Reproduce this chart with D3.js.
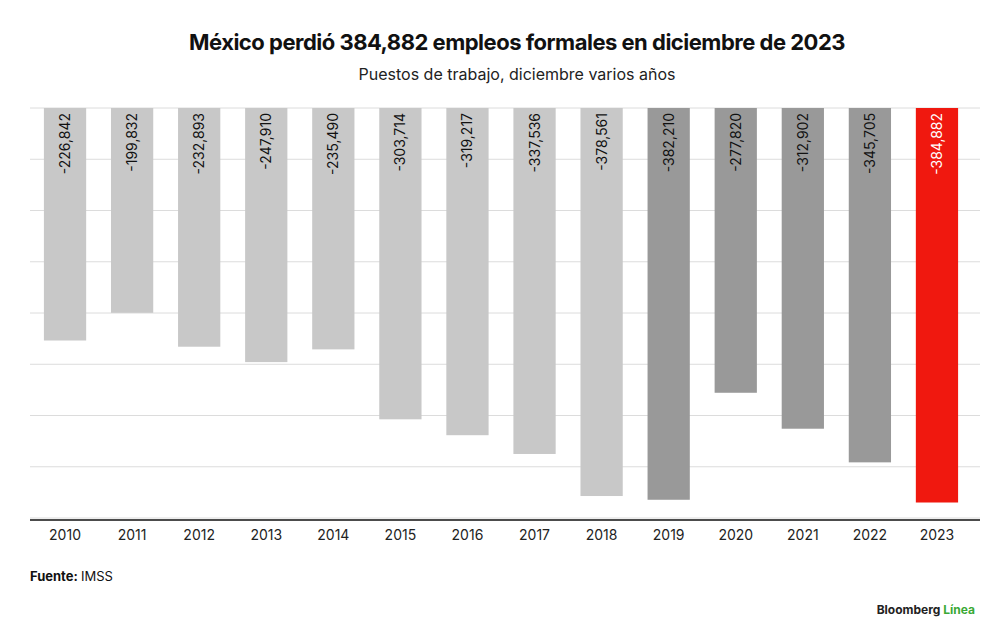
<!DOCTYPE html><html><head><meta charset="utf-8"><script src="https://cdn.jsdelivr.net/npm/d3@7"></script>
<style>body{margin:0;background:#fff}text{font-family:Inter,"Liberation Sans",sans-serif}</style></head><body>
<svg id="c" width="1000" height="636"></svg>
<script>
const years=["2010","2011","2012","2013","2014","2015","2016","2017","2018","2019","2020","2021","2022","2023"];
const values=[-226842,-199832,-232893,-247910,-235490,-303714,-319217,-337536,-378561,-382210,-277820,-312902,-345705,-384882];
const gridTicks=[0,-50000,-100000,-150000,-200000,-250000,-300000,-350000,-400000];
const svg=d3.select("#c");
const x=d3.scaleBand().domain(years).range([31.5,970.5]).paddingInner(0.37).paddingOuter(0.185);
const y=d3.scaleLinear().domain([0,-400000]).range([108,518]);
svg.append("g").selectAll("line").data(gridTicks).join("line").attr("x1",30).attr("x2",980)
 .attr("y1",d=>y(d)).attr("y2",d=>y(d)).attr("stroke","#dcdcdc");
const col=i=>i==13?"#f0180f":(i>=9?"#999999":"#c8c8c8");
svg.append("g").selectAll("rect").data(values).join("rect").attr("x",(d,i)=>x(years[i])).attr("width",x.bandwidth())
 .attr("y",y(0)).attr("height",d=>y(d)-y(0)).attr("fill",(d,i)=>col(i));
svg.append("g").selectAll("text").data(values).join("text")
 .attr("transform",(d,i)=>`translate(${x(years[i])+x.bandwidth()/2+5},113) rotate(-90)`)
 .attr("text-anchor","end").attr("font-size",14).attr("fill",(d,i)=>i==13?"#fff":"#111").text(d=>d3.format(",")(d).replace("−","-"));
svg.append("line").attr("x1",30).attr("x2",980).attr("y1",520).attr("y2",520).attr("stroke","#111").attr("stroke-width",1.5);
svg.append("g").selectAll("text").data(years).join("text").attr("x",d=>x(d)+x.bandwidth()/2).attr("y",540)
 .attr("text-anchor","middle").attr("font-size",14).attr("fill","#222").text(d=>d);
svg.append("text").attr("x",517).attr("y",50).attr("text-anchor","middle").attr("font-size",22).attr("font-weight",700).attr("letter-spacing",-0.5).attr("fill","#111").text("México perdió 384,882 empleos formales en diciembre de 2023");
svg.append("text").attr("x",517).attr("y",80).attr("text-anchor","middle").attr("font-size",16).attr("fill","#222").text("Puestos de trabajo, diciembre varios años");
const f=svg.append("text").attr("x",30).attr("y",581).attr("font-size",13).attr("fill","#111");
f.append("tspan").attr("font-weight",700).text("Fuente: ");f.append("tspan").text("IMSS");
const b=svg.append("text").attr("x",975).attr("y",614).attr("text-anchor","end").attr("font-size",12).attr("font-weight",700).attr("fill","#222");
b.append("tspan").text("Bloomberg ");b.append("tspan").attr("fill","#3aa935").text("Línea");
</script></body></html>
